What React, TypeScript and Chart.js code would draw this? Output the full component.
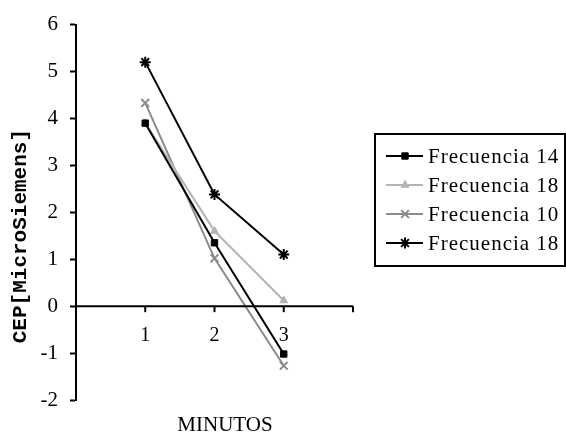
import React, { useEffect, useRef } from "react";
import { Chart, registerables } from "chart.js";
import { drawPoint } from "chart.js/helpers";

Chart.register(...registerables);

const minutes = [1, 2, 3];
const xTickValues = [1, 2, 3, 4];
const xTickLabels = ["1", "2", "3", ""];
const seriesNames = ["Frecuencia 14", "Frecuencia 18", "Frecuencia 10", "Frecuencia 18"];
const frec14 = [3.9, 1.35, -1.02];
const frec18a = [3.9, 1.6, 0.12];
const frec10 = [4.33, 1.02, -1.27];
const frec18b = [5.2, 2.38, 1.1];
const yTitle = "CEP[MicroSiemens]";
const xTitle = "MINUTOS";

const colors = ["#000000", "#b4b4b4", "#8a8a8a", "#000000"];
const pointStyles = ["rect", "triangle", "crossRot", "star"];
const pointRadii = [4.5, 4.5, 5.5, 5.5];

const serif = "'Liberation Serif', 'Times New Roman', serif";

export default function App() {
  const ref = useRef<HTMLCanvasElement>(null);
  useEffect(() => {
    document.body.style.margin = "0";
    const values = [frec14, frec18a, frec10, frec18b];
    const datasets = values.map((vals, i) => ({
      label: seriesNames[i],
      data: vals.map((v, j) => ({ x: minutes[j], y: v })),
      borderColor: colors[i],
      backgroundColor: colors[i],
      borderWidth: 2,
      pointStyle: pointStyles[i],
      pointRadius: pointRadii[i],
      pointBorderWidth: i >= 2 ? 2 : 1,
      pointBorderColor: colors[i],
      pointBackgroundColor: colors[i],
      showLine: true,
      tension: 0,
      clip: false as any,
    }));

    const extras = {
      id: "extras",
      afterDraw(chart: any) {
        const ctx = chart.ctx as CanvasRenderingContext2D;
        const xs = chart.scales.x;
        const ys = chart.scales.y;
        const y0 = ys.getPixelForValue(0);
        ctx.save();
        // x axis line at y = 0
        ctx.strokeStyle = "#000";
        ctx.lineWidth = 2;
        ctx.beginPath();
        ctx.moveTo(xs.left, y0);
        ctx.lineTo(xs.right, y0);
        ctx.stroke();
        ctx.fillStyle = "#000";
        ctx.font = `20px ${serif}`;
        ctx.textAlign = "center";
        ctx.textBaseline = "middle";
        xTickValues.forEach((v, i) => {
          const px = xs.getPixelForValue(v);
          ctx.beginPath();
          ctx.moveTo(px, y0);
          ctx.lineTo(px, y0 + 6);
          ctx.stroke();
          if (xTickLabels[i]) ctx.fillText(xTickLabels[i], px, y0 + 30);
        });
        // x title
        ctx.font = `21px ${serif}`;
        ctx.fillText(xTitle, 225, 425);
        // y title
        ctx.save();
        ctx.translate(21, 129);
        ctx.rotate(-Math.PI / 2);
        ctx.font = `bold 21px 'Liberation Mono', 'Courier New', monospace`;
        ctx.textAlign = "right";
        ctx.textBaseline = "middle";
        ctx.fillText(yTitle, 0, 0);
        ctx.restore();
        // legend
        const bx = 375, by = 134, bw = 190, bh = 132;
        ctx.lineWidth = 2;
        ctx.strokeStyle = "#000";
        ctx.strokeRect(bx, by, bw, bh);
        ctx.font = `21px ${serif}`;
        (ctx as any).letterSpacing = "1px";
        ctx.textAlign = "left";
        ctx.textBaseline = "middle";
        seriesNames.forEach((name, i) => {
          const ry = 156 + i * 29;
          ctx.strokeStyle = colors[i];
          ctx.lineWidth = 2;
          ctx.beginPath();
          ctx.moveTo(386, ry);
          ctx.lineTo(423, ry);
          ctx.stroke();
          ctx.fillStyle = colors[i];
          ctx.lineWidth = i >= 2 ? 2 : 1;
          drawPoint(ctx, { pointStyle: pointStyles[i] as any, radius: pointRadii[i], rotation: 0, borderWidth: i >= 2 ? 2 : 1 } as any, 405, ry);
          ctx.fillStyle = "#000";
          ctx.fillText(name, 428, ry + 1);
        });
        ctx.restore();
      },
    };

    const chart = new Chart(ref.current!, {
      type: "scatter",
      data: { datasets: datasets as any },
      options: {
        animation: false,
        responsive: false,
        devicePixelRatio: 1,
        layout: { padding: { left: 0, right: 213, top: 18, bottom: 38 } },
        plugins: { legend: { display: false }, tooltip: { enabled: false } },
        scales: {
          x: { type: "linear", min: 0, max: 4, display: false },
          y: {
            type: "linear",
            min: -2,
            max: 6,
            afterFit(scale: any) {
              scale.width = 76;
            },
            border: { display: true, color: "#000", width: 2 },
            grid: { drawOnChartArea: false, tickLength: 6, color: "#000", tickWidth: 2 } as any,
            ticks: {
              stepSize: 1,
              color: "#000",
              padding: 12,
              font: { family: "'Liberation Serif', 'Times New Roman', serif", size: 21 },
            },
          },
        },
      },
      plugins: [extras],
    });
    return () => chart.destroy();
  }, []);
  return <canvas ref={ref} width={566} height={438} style={{ display: "block" }} />;
}
